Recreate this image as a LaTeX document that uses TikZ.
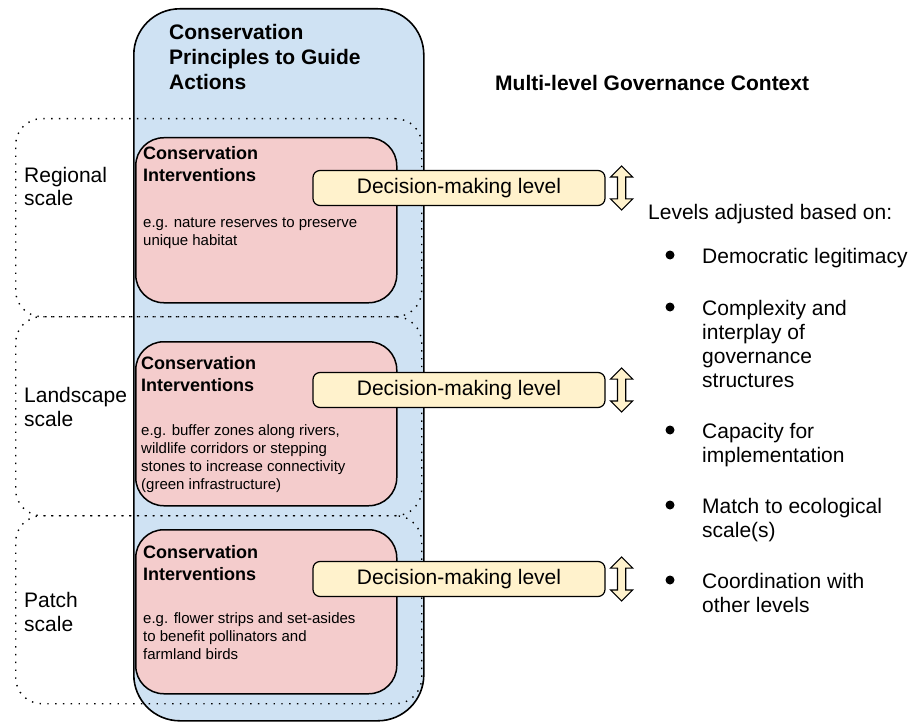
\documentclass[tikz,border=0pt]{standalone}
\usepackage{fontspec}
\setmainfont{Liberation Sans}
\usetikzlibrary{shapes.arrows,positioning}
\definecolor{principlesblue}{HTML}{CFE2F3}
\definecolor{interventionpink}{HTML}{F4CCCC}
\definecolor{decisionyellow}{HTML}{FFF2CC}
\tikzset{
  principlesbox/.style={draw, line width=1.6pt, fill=principlesblue, rounded corners=46pt,
    anchor=north west, minimum width=290pt, minimum height=712pt},
  scalebox/.style={draw, line width=1.4pt, dash pattern=on 1.4pt off 6.4pt,
    rounded corners=26pt, anchor=north west, minimum width=406pt},
  interventionbox/.style={draw, line width=1.5pt, fill=interventionpink, rounded corners=28pt,
    anchor=north west, minimum width=261pt, minimum height=164pt},
  decisionbox/.style={draw, line width=1.2pt, fill=decisionyellow, rounded corners=7pt,
    minimum width=292pt, minimum height=35pt, inner sep=0pt, font=\fontsize{21}{24}\selectfont},
  levelarrow/.style={draw, line width=1.2pt, fill=decisionyellow, double arrow, rotate=90,
    minimum height=44pt, inner xsep=0pt, inner ysep=3.5pt, double arrow head extend=7pt},
  %% text nodes sit on the baseline of their last line
  titletext/.style={anchor=base west, inner sep=0pt, align=left,
    font=\bfseries\fontsize{21}{25}\selectfont},
  headtext/.style={anchor=base west, inner sep=0pt, align=left,
    font=\bfseries\fontsize{18}{22}\selectfont},
  exampletext/.style={anchor=base west, inner sep=0pt, align=left,
    font=\fontsize{15}{18}\selectfont},
  plaintext/.style={anchor=base west, inner sep=0pt, align=left,
    font=\fontsize{21}{24}\selectfont},
  bulletdot/.style={circle, fill=black, inner sep=0pt, minimum size=9pt}
}

\begin{document}
\begin{tikzpicture}[x=1pt, y=-1pt]
    \useasboundingbox (0,0) rectangle (910,722);
    %% principles
    \node [principlesbox] (principles) at (133,8) {};
    \node [titletext] (principlesTitle) at (169,90) {Conservation\\Principles to Guide\\Actions};
    \node [titletext] (governance) at (495,91) {Multi-level Governance Context};
    %% scales
    \node [scalebox, minimum height=198pt] (regional) at (15,118) {};
    \node [scalebox, minimum height=199pt] (landscape) at (15,316) {};
    \node [scalebox, minimum height=188pt] (patch) at (15,515) {};
    \node [plaintext] (regionalText) at (24,206) {Regional\\scale};
    \node [plaintext] (landscapeText) at (24,426) {Landscape\\scale};
    \node [plaintext] (patchText) at (24,631) {Patch\\scale};
    %% interventions
    \node [interventionbox, minimum height=165pt] (intR) at (135,137) {};
    \node [interventionbox] (intL) at (135,341) {};
    \node [interventionbox] (intP) at (135,529) {};
    \node [headtext] (intRHead) at (143,182) {Conservation\\Interventions};
    \node [headtext] (intLHead) at (141,391) {Conservation\\Interventions};
    \node [headtext] (intPHead) at (143,580) {Conservation\\Interventions};
    \node [exampletext] (intRText) at (143,245) {e.g. nature reserves to preserve\\unique habitat};
    \node [exampletext] (intLText) at (141,489) {e.g. buffer zones along rivers,\\wildlife corridors or stepping\\stones to increase connectivity\\(green infrastructure)};
    \node [exampletext] (intPText) at (143,659) {e.g. flower strips and set-asides\\to benefit pollinators and\\farmland birds};
    %% decision levels
    \node [decisionbox] (decR) at (459,188) {Decision-making level};
    \node [decisionbox] (decL) at (459,390) {Decision-making level};
    \node [decisionbox] (decP) at (459,579) {Decision-making level};
    \node [levelarrow] (adjR) at ([xshift=16pt]decR.east) {};
    \node [levelarrow] (adjL) at ([xshift=16pt]decL.east) {};
    \node [levelarrow] (adjP) at ([xshift=16pt]decP.east) {};
    %% criteria
    \node [plaintext] (adjusted) at (648,220) {Levels adjusted based on:};
    \foreach \i/\y/\ylast/\txt in {1/263/263/{Democratic legitimacy},
        2/315/387/{Complexity and\\interplay of\\governance\\structures},
        3/438/462/{Capacity for\\implementation},
        4/513/537/{Match to ecological\\scale(s)},
        5/588/612/{Coordination with\\other levels}} {
      \node [bulletdot] (dot\i) at (670,\y-8) {};
      \node [plaintext] (crit\i) at (702,\ylast) {\txt};
    }
\end{tikzpicture}
\end{document}
